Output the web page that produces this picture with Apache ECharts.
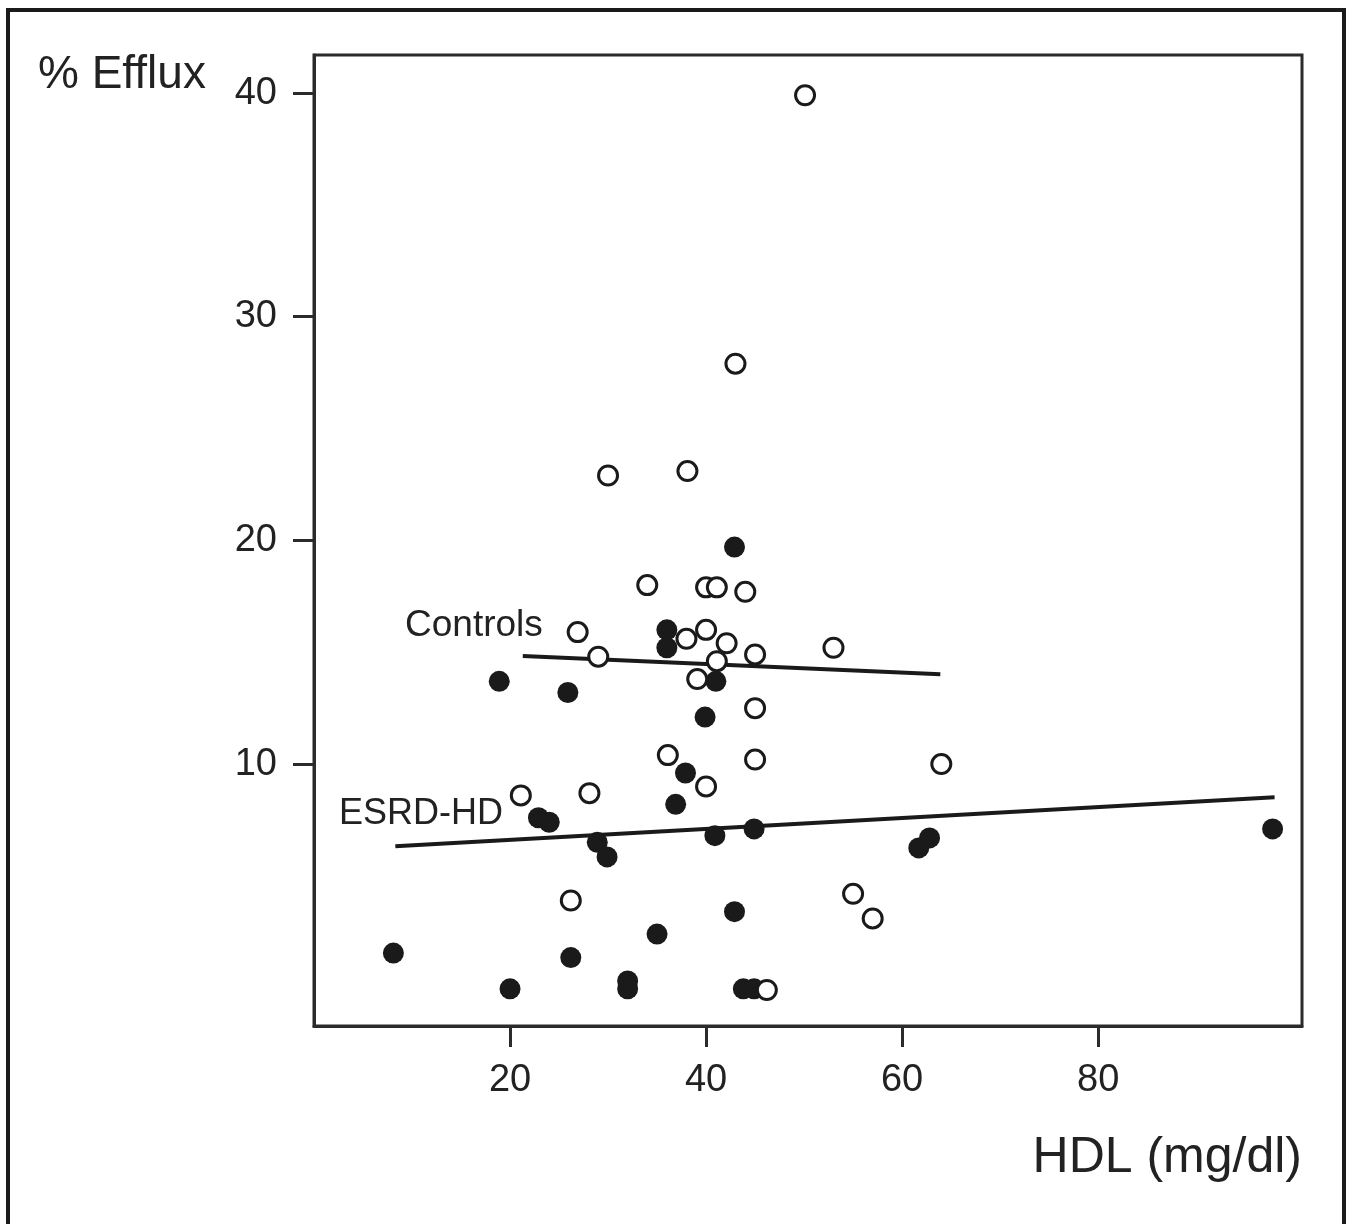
<!DOCTYPE html>
<html>
<head>
<meta charset="utf-8">
<script src="https://cdn.jsdelivr.net/npm/echarts@6/dist/echarts.min.js"></script>
<style>
  html, body { margin: 0; padding: 0; background: #fff; }
  #main { width: 1352px; height: 1224px; }
</style>
</head>
<body>
<div id="main"></div>
<script>
// HDL (mg/dl) vs % efflux
const controlsHdl = [50.1, 43.0, 30.0, 38.1, 34.0, 40.0, 41.1, 44.0, 26.9, 40.0, 38.0, 42.1, 29.0, 45.0,
  41.1, 53.0, 39.1, 45.0, 36.1, 45.0, 64.0, 21.1, 28.1, 40.0, 26.2, 55.0, 57.0, 46.2];
const controlsEfflux = [39.9, 27.9, 22.9, 23.1, 18.0, 17.9, 17.9, 17.7, 15.9, 16.0, 15.6, 15.4, 14.8, 14.9,
  14.6, 15.2, 13.8, 12.5, 10.4, 10.2, 10.0, 8.6, 8.7, 9.0, 3.9, 4.2, 3.1, -0.1];

const esrdHdl = [42.9, 36.0, 36.0, 18.9, 25.9, 41.0, 39.9, 37.9, 36.9, 22.9, 24.0, 28.9, 29.9, 40.9,
  44.9, 61.7, 62.8, 97.8, 8.1, 26.2, 35.0, 42.9, 20.0, 32.0, 32.0, 43.8, 44.9];
const esrdEfflux = [19.7, 16.0, 15.2, 13.7, 13.2, 13.7, 12.1, 9.6, 8.2, 7.6, 7.4, 6.5, 5.85, 6.8,
  7.1, 6.25, 6.7, 7.1, 1.55, 1.35, 2.4, 3.4, -0.05, 0.3, -0.05, -0.05, -0.05];

// regression line end points
const controlsFitX = [21.3, 63.9];
const controlsFitY = [14.83, 14.02];
const esrdFitX = [8.3, 98.0];
const esrdFitY = [6.33, 8.52];

const xTicks = [20, 40, 60, 80];
const yTicks = [10, 20, 30, 40];

const ink = '#1a1a1a';
const font = '"Liberation Sans", Arial, sans-serif';

const pairs = (xs, ys) => xs.map((x, i) => [x, ys[i]]);

const chart = echarts.init(document.getElementById('main'), null, { renderer: 'canvas' });

const option = {
  animation: false,
  backgroundColor: '#fff',
  grid: {
    left: 314, top: 55, width: 988, height: 971,
    show: true, borderColor: '#2b2b2b', borderWidth: 3, backgroundColor: 'transparent'
  },
  xAxis: {
    type: 'value', min: 0, max: 100.8,
    axisLine: { show: true, onZero: false, lineStyle: { color: '#2b2b2b', width: 3 } },
    axisTick: { show: true, customValues: xTicks, inside: false, length: 21, lineStyle: { color: '#2b2b2b', width: 3 } },
    axisLabel: { customValues: xTicks, margin: 36, color: '#222', fontSize: 38, fontFamily: font },
    splitLine: { show: false }
  },
  yAxis: {
    type: 'value', min: -1.71, max: 41.7,
    axisLine: { show: true, onZero: false, lineStyle: { color: '#2b2b2b', width: 3 } },
    axisTick: { show: true, customValues: yTicks, inside: false, length: 21, lineStyle: { color: '#2b2b2b', width: 3 } },
    axisLabel: { customValues: yTicks, margin: 37, color: '#222', fontSize: 38, fontFamily: font },
    splitLine: { show: false }
  },
  series: [
    {
      name: 'Controls fit', type: 'line', z: 1, symbol: 'none',
      data: pairs(controlsFitX, controlsFitY),
      lineStyle: { color: ink, width: 4 }
    },
    {
      name: 'ESRD-HD fit', type: 'line', z: 1, symbol: 'none',
      data: pairs(esrdFitX, esrdFitY),
      lineStyle: { color: ink, width: 4 }
    },
    {
      name: 'Controls', type: 'scatter', z: 3, symbol: 'circle', symbolSize: 19,
      data: pairs(controlsHdl, controlsEfflux),
      itemStyle: { color: '#fff', borderColor: ink, borderWidth: 3, opacity: 1 }
    },
    {
      name: 'ESRD-HD', type: 'scatter', z: 2, symbol: 'circle', symbolSize: 21,
      data: pairs(esrdHdl, esrdEfflux),
      itemStyle: { color: ink, opacity: 1 }
    }
  ],
  graphic: [
    // outer frame of the figure (open at the bottom)
    { type: 'rect', z: 0, shape: { x: 8, y: 10, width: 1336, height: 1300 },
      style: { fill: 'none', stroke: ink, lineWidth: 4 } },
    { type: 'text', left: 38, top: 52, style: { text: '% Efflux', font: '46px ' + font, fill: '#222' } },
    { type: 'text', right: 50, top: 1133, style: { text: 'HDL (mg/dl)', font: '50px ' + font, fill: '#222' } },
    { type: 'text', left: 405, top: 607, style: { text: 'Controls', font: '37px ' + font, fill: '#222' } },
    { type: 'text', left: 339, top: 796, style: { text: 'ESRD-HD', font: '36px ' + font, fill: '#222' } }
  ]
};

chart.setOption(option);
</script>
</body>
</html>
